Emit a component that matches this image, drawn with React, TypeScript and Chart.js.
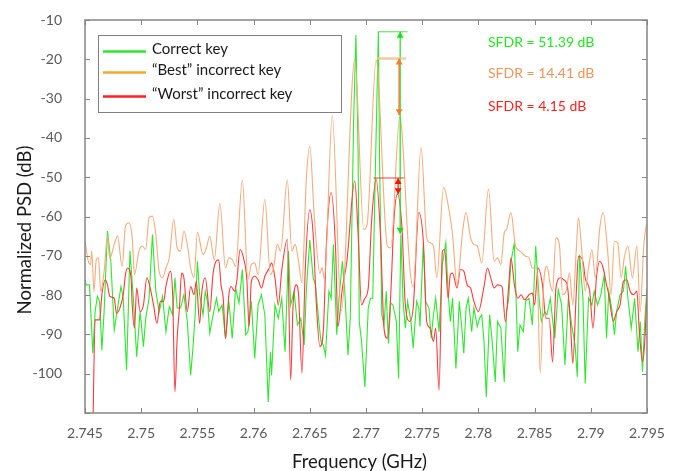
import React, { useEffect, useRef } from 'react';
import { Chart, registerables } from 'chart.js';

Chart.register(...registerables);

// ---------- axis ticks ----------
const xTickValues = [2.745, 2.75, 2.755, 2.76, 2.765, 2.77, 2.775, 2.78, 2.785, 2.79, 2.795];
const xTickLabels = ['2.745', '2.75', '2.755', '2.76', '2.765', '2.77', '2.775', '2.78', '2.785', '2.79', '2.795'];
const yTickValues = [-110, -100, -90, -80, -70, -60, -50, -40, -30, -20, -10];
const yTickLabels = ['', '-100', '-90', '-80', '-70', '-60', '-50', '-40', '-30', '-20', '-10'];

const xTitle = 'Frequency (GHz)';
const yTitle = 'Normalized PSD (dB)';

// ---------- series ----------
const legendLabels = ['Correct key', '\u201CBest\u201D incorrect key', '\u201CWorst\u201D incorrect key'];

// "Best" incorrect key (orange)
const bestFreq = [
  2.745, 2.7453, 2.7455, 2.7456, 2.7458, 2.746, 2.7462, 2.7464, 2.7467, 2.747, 2.7472, 2.7476, 2.7479,
  2.7483, 2.7486, 2.7489, 2.7492, 2.7494, 2.7498, 2.7501, 2.7504, 2.7507, 2.751, 2.7513, 2.7516, 2.7519,
  2.7522, 2.7525, 2.7529, 2.7532, 2.7535, 2.7538, 2.7541, 2.7544, 2.7547, 2.755, 2.7555, 2.7558, 2.7561,
  2.7565, 2.757, 2.7575, 2.7578, 2.7581, 2.7584, 2.759, 2.7595, 2.7598, 2.7601, 2.7604, 2.761, 2.7615,
  2.7618, 2.7621, 2.7624, 2.763, 2.7634, 2.7637, 2.764, 2.7643, 2.7647, 2.765, 2.7654, 2.7659, 2.7661,
  2.7663, 2.767, 2.7678, 2.769, 2.7698, 2.7701, 2.7709, 2.7719, 2.7722, 2.773, 2.7739, 2.7742, 2.7749,
  2.7754, 2.7757, 2.776, 2.7763, 2.7769, 2.7774, 2.7777, 2.7781, 2.7786, 2.7789, 2.7793, 2.7796, 2.7799,
  2.7803, 2.7809, 2.7814, 2.7817, 2.782, 2.7823, 2.7825, 2.7829, 2.7833, 2.7837, 2.7842, 2.7845, 2.7848,
  2.7852, 2.7855, 2.7858, 2.7861, 2.7864, 2.7866, 2.7869, 2.7872, 2.7875, 2.7878, 2.7881, 2.7884, 2.7887,
  2.7889, 2.7892, 2.7895, 2.7898, 2.7901, 2.7904, 2.7908, 2.7911, 2.7915, 2.7918, 2.7921, 2.7924, 2.7927,
  2.793, 2.7933, 2.7937, 2.7941, 2.7944, 2.7947, 2.7949, 2.795,
];
const bestPsd = [
  -66.3, -71.4, -72.2, -68.8, -79.1, -71, -70.5, -79.1, -74, -65, -70.7, -67.1, -65,
  -72.7, -62.4, -61.6, -65.4, -74.8, -68.8, -67.5, -68.4, -60.3, -59.9, -64.6, -74, -75.6,
  -73.1, -70.5, -60.7, -68, -68.8, -63.7, -67.1, -73.1, -75.6, -64, -69.7, -68, -65,
  -71, -56.7, -73.1, -70.5, -71, -72.7, -50.7, -76, -72.2, -71.8, -74.8, -55.6, -74.8,
  -72.7, -67.1, -68.8, -50.7, -68.8, -67.1, -71.4, -76.9, -50, -42.2, -60, -74.4, -73,
  -76, -34.3, -84, -20, -63.3, -62, -20.2, -67.5, -68, -34.7, -73.1, -78, -42.4,
  -65.4, -66.7, -67.5, -75.6, -52.6, -58.6, -64.6, -77.4, -63.7, -59, -65.4, -67.1, -67.5,
  -71.8, -53, -71.4, -70.5, -72.2, -64.1, -63.3, -59, -67.5, -68.8, -70.1, -70.5, -73.1,
  -73.1, -99.9, -77.4, -72.7, -77.4, -79, -65.4, -67.1, -79.9, -79, -74.4, -82.5, -68.8,
  -60.3, -68.8, -79, -73.1, -68.4, -75.6, -62.9, -59, -68.8, -79.9, -66.3, -66.7, -75.6,
  -70.1, -67.5, -75.6, -67.5, -84.2, -68, -62.9, -62,
];

// "Worst" incorrect key (red)
const worstFreq = [
  2.7457, 2.7459, 2.7463, 2.7465, 2.7468, 2.747, 2.7472, 2.7476, 2.7478, 2.7481, 2.7484, 2.7486, 2.7488,
  2.7491, 2.7492, 2.7494, 2.7496, 2.7499, 2.7502, 2.7505, 2.7508, 2.7511, 2.7514, 2.7517, 2.752, 2.7522,
  2.7526, 2.7528, 2.753, 2.7532, 2.7534, 2.7536, 2.7538, 2.7541, 2.7544, 2.7547, 2.7549, 2.7552, 2.7554,
  2.7557, 2.7561, 2.7564, 2.7569, 2.7571, 2.7573, 2.7575, 2.7578, 2.758, 2.7583, 2.7585, 2.7588, 2.7591,
  2.7594, 2.7596, 2.7598, 2.7601, 2.7604, 2.7607, 2.761, 2.7614, 2.7616, 2.7619, 2.7622, 2.7625, 2.763,
  2.7633, 2.7635, 2.7638, 2.764, 2.7643, 2.7646, 2.765, 2.7653, 2.7656, 2.7659, 2.7662, 2.7665, 2.7669,
  2.7673, 2.7675, 2.7679, 2.7683, 2.769, 2.7693, 2.7696, 2.7699, 2.7702, 2.7705, 2.7709, 2.7713, 2.7716,
  2.7719, 2.7722, 2.7725, 2.7728, 2.7732, 2.7735, 2.7739, 2.7742, 2.7747, 2.7751, 2.7754, 2.7757, 2.776,
  2.7762, 2.7765, 2.7768, 2.777, 2.7773, 2.7775, 2.7777, 2.7781, 2.7784, 2.7787, 2.779, 2.7793, 2.7796,
  2.78, 2.7805, 2.7808, 2.7811, 2.7814, 2.7817, 2.7821, 2.7824, 2.7827, 2.7829, 2.7832, 2.7835, 2.7838,
  2.7841, 2.7845, 2.7848, 2.785, 2.7853, 2.7857, 2.786, 2.7863, 2.7866, 2.7869, 2.7873, 2.7876, 2.7879,
  2.7882, 2.7884, 2.7887, 2.7889, 2.7893, 2.7895, 2.7899, 2.7902, 2.7905, 2.7908, 2.7911, 2.7914, 2.7916,
  2.792, 2.7923, 2.7926, 2.7929, 2.7932, 2.7935, 2.7938, 2.7941, 2.7943, 2.7946, 2.7948, 2.795,
];
const worstPsd = [
  -115, -86.3, -86.3, -79.9, -76.1, -77.4, -80.3, -80.8, -84.6, -83.3, -79.9, -74.8, -73.1,
  -75.6, -82.5, -88.4, -78.2, -84.2, -82.5, -75.6, -78.2, -82.5, -87.2, -81.6, -81.6, -77.8,
  -73.9, -79.9, -104.6, -91, -83.3, -74.4, -75.6, -84.2, -77.8, -79.9, -76.5, -87.2, -79,
  -75.6, -84.2, -74.4, -71, -77.4, -80.8, -91, -79.9, -77.8, -79, -76.5, -68.4, -70.5,
  -76.1, -88, -76.5, -75.2, -76.1, -78.2, -75.2, -73.1, -71.8, -75.6, -82.5, -73.9, -65.8,
  -101.6, -83.3, -77.4, -79.9, -99.9, -73.1, -58.3, -64.6, -83.3, -93.1, -89.3, -65.4, -53.9,
  -68.8, -88, -78.2, -71.4, -50.9, -64.6, -82.5, -80.8, -78.2, -61.2, -50.5, -65.4, -88.4,
  -91, -79.9, -60.3, -54.3, -62.9, -82.5, -86.7, -83.3, -59, -66.3, -86.7, -88.4, -91.8,
  -88.4, -104.2, -68.8, -68.4, -80.8, -74.8, -74.4, -78.2, -73.5, -73.9, -77.4, -78.2, -81.6,
  -84.2, -77.8, -73.1, -75.6, -78.2, -77.4, -77.8, -86.7, -77.4, -70.5, -77.4, -80.8, -79.9,
  -81.2, -79.9, -79.5, -82.5, -73.1, -77.4, -85.9, -85.9, -97, -78.2, -75.6, -76.1, -77.4,
  -87.6, -97.4, -79.9, -70.1, -71.4, -75.6, -79, -88.4, -75.6, -71.4, -73.1, -77.4, -79.9,
  -86.7, -84.2, -82.5, -76.5, -76.1, -79, -79.9, -79, -88.4, -97, -91.8, -79,
];

// Correct key (green)
const correctFreq = [
  2.745, 2.7451, 2.7454, 2.7457, 2.7459, 2.7461, 2.7463, 2.7465, 2.7467, 2.747, 2.7473, 2.7476, 2.7479,
  2.7482, 2.7484, 2.7487, 2.749, 2.7493, 2.7496, 2.7499, 2.7502, 2.7504, 2.7507, 2.751, 2.7513, 2.7516,
  2.7519, 2.7522, 2.7525, 2.7528, 2.753, 2.7532, 2.7535, 2.7538, 2.7541, 2.7544, 2.7546, 2.7548, 2.755,
  2.7552, 2.7555, 2.7557, 2.7559, 2.7561, 2.7564, 2.7567, 2.7569, 2.7572, 2.7575, 2.7578, 2.7581, 2.7584,
  2.7587, 2.759, 2.7593, 2.7595, 2.7598, 2.7601, 2.7604, 2.7607, 2.761, 2.7613, 2.7615, 2.7616, 2.7619,
  2.7622, 2.7625, 2.7628, 2.7631, 2.7633, 2.7636, 2.7639, 2.7642, 2.7645, 2.7647, 2.765, 2.7653, 2.7655,
  2.7658, 2.766, 2.7662, 2.7664, 2.7667, 2.7669, 2.7671, 2.7674, 2.7676, 2.7679, 2.7681, 2.7684, 2.7686,
  2.7689, 2.7691, 2.7693, 2.7694, 2.7696, 2.7699, 2.7702, 2.7704, 2.7706, 2.7708, 2.7711, 2.7712, 2.7714,
  2.7716, 2.7718, 2.772, 2.7722, 2.7724, 2.7727, 2.7729, 2.7731, 2.7733, 2.7735, 2.7737, 2.774, 2.7742,
  2.7745, 2.7747, 2.7748, 2.7751, 2.7753, 2.7756, 2.7758, 2.776, 2.7762, 2.7765, 2.7768, 2.7771, 2.7773,
  2.7775, 2.7777, 2.778, 2.7783, 2.7785, 2.7787, 2.7789, 2.7791, 2.7794, 2.7796, 2.7799, 2.7801, 2.7803,
  2.7805, 2.7807, 2.781, 2.7812, 2.7815, 2.7817, 2.782, 2.7823, 2.7825, 2.7827, 2.7829, 2.7832, 2.7835,
  2.7837, 2.784, 2.7842, 2.7845, 2.7848, 2.7851, 2.7854, 2.7856, 2.7859, 2.7861, 2.7864, 2.7866, 2.7868,
  2.7871, 2.7874, 2.7877, 2.788, 2.7883, 2.7886, 2.7888, 2.789, 2.7893, 2.7895, 2.7898, 2.7901, 2.7903,
  2.7906, 2.7909, 2.7912, 2.7914, 2.7916, 2.7919, 2.7921, 2.7923, 2.7926, 2.7929, 2.7931, 2.7933, 2.7936,
  2.7939, 2.7942, 2.7944, 2.7946, 2.7948, 2.795,
];
const correctPsd = [
  -76.1, -77.4, -77.4, -94.8, -84.2, -80.3, -81.6, -94, -84.2, -63.7, -71.4, -88.9, -83.3,
  -77.8, -80.8, -99.1, -68.8, -80.8, -95.7, -84.2, -93.1, -85.9, -80.8, -64.6, -79, -84.2,
  -80.3, -89.3, -82.9, -85, -75.6, -83.3, -83.3, -79.9, -86.7, -100.4, -93.5, -85, -71.4,
  -79.9, -85, -79, -81.6, -89.7, -85, -80.8, -84.2, -82.5, -91, -81.6, -91, -78.2,
  -82, -73.5, -90.1, -89.3, -81.6, -96.1, -82.5, -79.9, -85, -107.2, -94.4, -100.4, -82.5,
  -85.9, -80.8, -94.4, -68.8, -82.5, -79, -87.6, -85.9, -92.7, -78.2, -66, -75.6, -77.3,
  -86.7, -91.8, -92.7, -95.3, -79, -80.8, -67.1, -90.1, -80.8, -71.4, -78.2, -95.3, -85.9,
  -35.6, -13.8, -44.1, -86.7, -91.8, -103.4, -83.3, -80.8, -80.8, -52.6, -13, -44.1, -85,
  -87.6, -79, -92.3, -82, -82.5, -86.7, -101.2, -64.6, -81.6, -88.4, -81.6, -86.7, -93.5,
  -81.6, -83.3, -88, -66.7, -81.6, -83.3, -91, -85, -80.8, -89.3, -72.2, -66.7, -79,
  -86.7, -80.8, -98.7, -81.6, -87.6, -94.8, -83.3, -80.8, -89.3, -83.3, -88, -85.9, -85,
  -91.8, -105.9, -85, -91, -102.1, -86.7, -88.4, -102.1, -84.2, -80.8, -71.4, -66.7, -94.4,
  -87.6, -89.3, -81.5, -80.8, -87.6, -67.5, -80.8, -86.7, -84.2, -85, -80.8, -86.3, -91,
  -78.6, -82.5, -97.8, -80.8, -87.6, -92.7, -100.8, -69.7, -80.8, -102.5, -80.8, -82.5, -79,
  -82.5, -79.9, -74.8, -91, -79, -84.2, -90.1, -84.2, -79.9, -79, -72.7, -80.8, -88.4,
  -80.8, -94.4, -86.7, -99.5, -86.7, -78.2,
];

// ---------- SFDR annotations ----------
const sfdrValues = [51.39, 14.41, 4.15];          // correct, best, worst
const sfdrPeakLevel = [-13.0, -19.8, -50.2];      // level of the strongest tone
const sfdrLineFrom = [2.77105, 2.77097, 2.77067]; // start of the peak level marker
const sfdrLineTo = [2.77369, 2.77357, 2.7734];    // end of the peak level marker
const sfdrArrowFreq = [2.77304, 2.77295, 2.77286];

// ---------- styles ----------
const seriesColors = ['rgb(45, 232, 45)', 'rgb(244, 172, 122)', 'rgb(255, 58, 58)'];
const legendColors = ['#2ee82e', '#f0aa30', '#ff1e1e'];
const sfdrColors = ['#22e622', '#f09458', '#ff2020'];
const arrowColors = ['#19e019', '#ee8033', '#ff1010'];
const levelColors = ['rgba(60,220,60,0.9)', 'rgba(246,190,150,0.85)', 'rgba(235,40,40,0.9)'];
const FONT = 'Lato, "Open Sans", sans-serif';

function tri(ctx: CanvasRenderingContext2D, x: number, tipY: number, dir: number, w: number, h: number) {
  ctx.beginPath();
  ctx.moveTo(x, tipY);
  ctx.lineTo(x - w / 2, tipY + dir * h);
  ctx.lineTo(x + w / 2, tipY + dir * h);
  ctx.closePath();
  ctx.fill();
}

const overlayPlugin = {
  id: 'overlay',
  afterDatasetsDraw(chart: any) {
    const { ctx, chartArea: a, scales } = chart;
    const xs = scales.x;
    const ys = scales.y;
    ctx.save();

    // SFDR markers
    for (let i = 0; i < sfdrValues.length; i++) {
      const yTop = ys.getPixelForValue(sfdrPeakLevel[i]);
      const yBot = ys.getPixelForValue(sfdrPeakLevel[i] - sfdrValues[i]);
      const x0 = xs.getPixelForValue(sfdrLineFrom[i]);
      const x1 = xs.getPixelForValue(sfdrLineTo[i]);
      const xa = xs.getPixelForValue(sfdrArrowFreq[i]);
      ctx.strokeStyle = levelColors[i];
      ctx.lineWidth = i === 1 ? 2.5 : 1;
      ctx.beginPath();
      ctx.moveTo(x0, yTop);
      ctx.lineTo(x1, yTop);
      ctx.stroke();
      ctx.strokeStyle = arrowColors[i];
      ctx.fillStyle = arrowColors[i];
      ctx.lineWidth = i === 1 ? 1.5 : 1.2;
      ctx.beginPath();
      ctx.moveTo(xa, yTop);
      ctx.lineTo(xa, yBot);
      ctx.stroke();
      tri(ctx, xa, yTop, 1, 7, 6);
      tri(ctx, xa, yBot, -1, 7, 6);
    }

    // frame
    ctx.strokeStyle = '#858585';
    ctx.lineWidth = 1.5;
    ctx.strokeRect(a.left, a.top, a.right - a.left, a.bottom - a.top);

    // inward tick marks on all four sides
    ctx.lineWidth = 1;
    ctx.strokeStyle = '#858585';
    const tl = 5;
    ctx.beginPath();
    xTickValues.forEach((v) => {
      const px = Math.round(xs.getPixelForValue(v)) + 0.5;
      ctx.moveTo(px, a.bottom);
      ctx.lineTo(px, a.bottom - tl);
      ctx.moveTo(px, a.top);
      ctx.lineTo(px, a.top + tl);
    });
    yTickValues.forEach((v) => {
      const py = Math.round(ys.getPixelForValue(v)) + 0.5;
      ctx.moveTo(a.left, py);
      ctx.lineTo(a.left + tl, py);
      ctx.moveTo(a.right, py);
      ctx.lineTo(a.right - tl, py);
    });
    ctx.stroke();

    // legend box
    const lx = 98.5, ly = 35.5, lw = 243, lh = 77;
    ctx.fillStyle = '#ffffff';
    ctx.fillRect(lx, ly, lw, lh);
    ctx.strokeStyle = '#808080';
    ctx.lineWidth = 1;
    ctx.strokeRect(lx, ly, lw, lh);
    const rowLine = [51.5, 72.5, 96.5];
    const rowText = [49, 70, 94];
    ctx.font = `15px ${FONT}`;
    ctx.textBaseline = 'middle';
    ctx.textAlign = 'left';
    legendLabels.forEach((lab, i) => {
      ctx.strokeStyle = legendColors[i];
      ctx.lineWidth = 2.5;
      ctx.beginPath();
      ctx.moveTo(103, rowLine[i]);
      ctx.lineTo(146, rowLine[i]);
      ctx.stroke();
      ctx.fillStyle = '#1a1a1a';
      ctx.fillText(lab, 152, rowText[i]);
    });

    // SFDR labels
    ctx.font = `14px ${FONT}`;
    const sy = [42, 73, 106];
    sfdrValues.forEach((v, i) => {
      ctx.fillStyle = sfdrColors[i];
      ctx.fillText(`SFDR = ${v.toFixed(2)} dB`, 488, sy[i]);
    });

    // axis titles
    ctx.fillStyle = '#1a1a1a';
    ctx.font = `18.5px ${FONT}`;
    ctx.textAlign = 'center';
    ctx.fillText(xTitle, 359.5, 462);
    ctx.translate(25, 230);
    ctx.rotate(-Math.PI / 2);
    ctx.fillText(yTitle, 0, 0);

    ctx.restore();
  },
};

export default function App() {
  const ref = useRef<HTMLCanvasElement | null>(null);

  useEffect(() => {
    if (!ref.current) return;
    const mk = (fr: number[], v: number[]) => fr.map((f, i) => ({ x: f, y: v[i] }));
    const chart = new Chart(ref.current, {
      type: 'line',
      data: {
        datasets: [
          {
            label: legendLabels[1],
            data: mk(bestFreq, bestPsd),
            borderColor: seriesColors[1],
            borderWidth: 1.1,
            pointRadius: 0,
            cubicInterpolationMode: 'monotone',
            fill: false,
          },
          {
            label: legendLabels[2],
            data: mk(worstFreq, worstPsd),
            borderColor: seriesColors[2],
            borderWidth: 1.1,
            pointRadius: 0,
            cubicInterpolationMode: 'monotone',
            fill: false,
          },
          {
            label: legendLabels[0],
            data: mk(correctFreq, correctPsd),
            borderColor: seriesColors[0],
            borderWidth: 1.1,
            pointRadius: 0,
            tension: 0,
            fill: false,
          },
        ],
      },
      options: {
        animation: false,
        responsive: false,
        maintainAspectRatio: false,
        layout: { padding: { left: 0, right: 27, top: 20, bottom: 0 } },
        plugins: { legend: { display: false }, tooltip: { enabled: false } },
        events: [],
        scales: {
          x: {
            type: 'linear',
            min: 2.745,
            max: 2.795,
            afterBuildTicks: (s: any) => {
              s.ticks = xTickValues.map((v) => ({ value: v }));
            },
            afterFit: (s: any) => {
              s.height = 58;
              s.paddingLeft = 0;
              s.paddingRight = 0;
              s.paddingTop = 0;
              s.paddingBottom = 0;
            },
            grid: { display: false, drawTicks: false },
            border: { display: false },
            ticks: {
              padding: 12,
              autoSkip: false,
              maxRotation: 0,
              color: '#595959',
              font: { family: FONT, size: 14 },
              callback: (_v: any, i: number) => xTickLabels[i],
            },
          },
          y: {
            type: 'linear',
            min: -110,
            max: -10,
            afterBuildTicks: (s: any) => {
              s.ticks = yTickValues.map((v) => ({ value: v }));
            },
            afterFit: (s: any) => {
              s.width = 85;
              s.paddingLeft = 0;
              s.paddingRight = 0;
              s.paddingTop = 0;
              s.paddingBottom = 0;
            },
            grid: { display: false, drawTicks: false },
            border: { display: false },
            ticks: {
              padding: 23,
              autoSkip: false,
              color: '#595959',
              font: { family: FONT, size: 14 },
              callback: (_v: any, i: number) => yTickLabels[i],
            },
          },
        },
      },
      plugins: [overlayPlugin],
    });
    return () => chart.destroy();
  }, []);

  return (
    <div style={{ position: 'fixed', left: 0, top: 0, width: 674, height: 471, background: '#fff' }}>
      <canvas ref={ref} width={674} height={471} style={{ width: 674, height: 471 }} />
    </div>
  );
}
